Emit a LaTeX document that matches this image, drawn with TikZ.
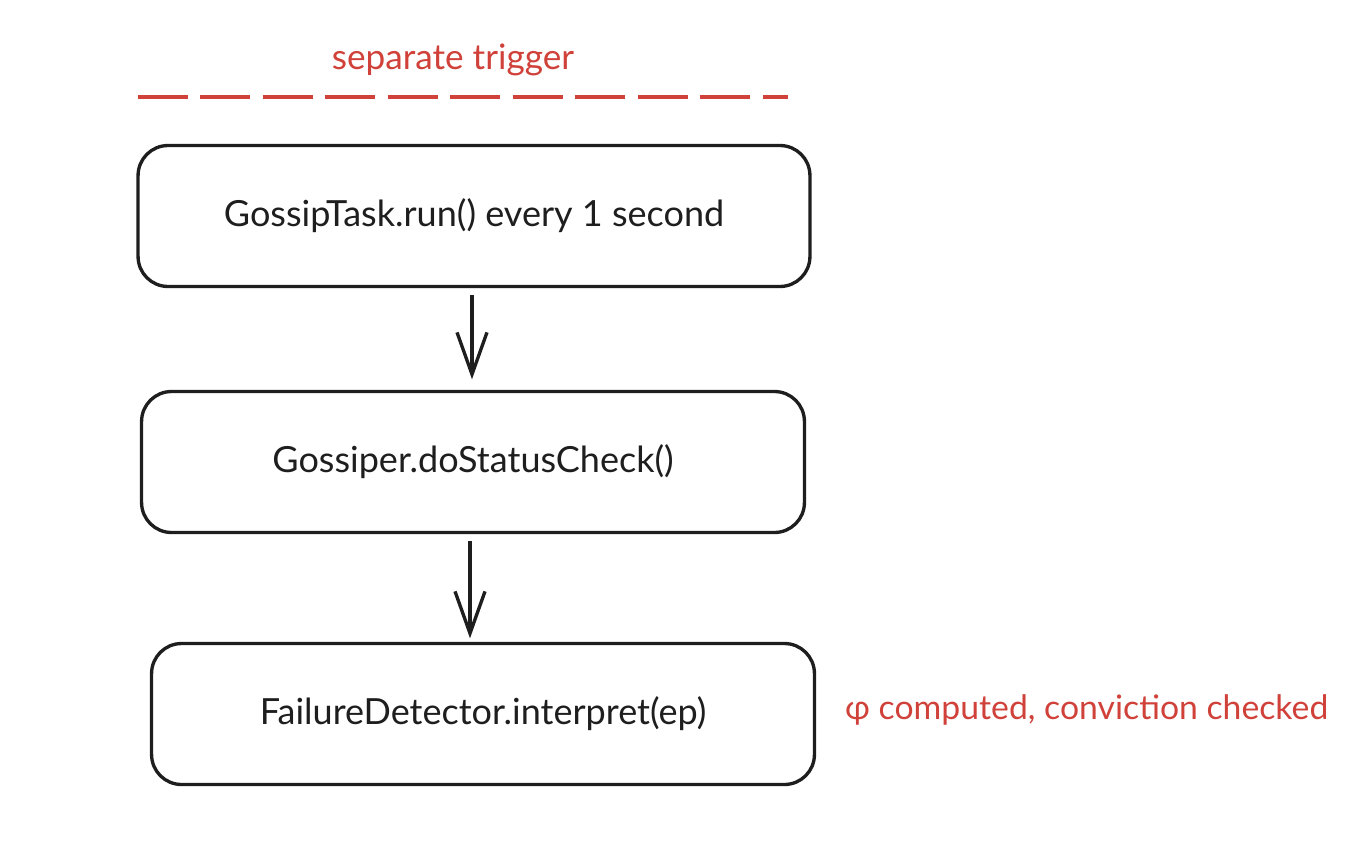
\documentclass[tikz,border=0pt]{standalone}
\usepackage{fontspec}
\setmainfont{Lato}
\usepackage{xcolor}
\usetikzlibrary{arrows.meta, positioning, calc}
\definecolor{notered}{HTML}{D0413A}
\definecolor{ink}{HTML}{1E1E1E}

\begin{document}
\begin{tikzpicture}[
      x=0.02cm, y=-0.02cm,
      etapa/.style={draw=ink, line width=1.9pt, rounded corners=0.6cm,
                    minimum height=2.82cm, align=center,
                    font=\fontsize{20.5}{24}\selectfont, text=ink},
      nota/.style={font=\fontsize{20}{24}\selectfont, text=notered},
      seta/.style={-{Straight Barb[length=0.84cm, width=0.6cm, line width=1.9pt]},
                   line width=1.9pt, ink},
      corte/.style={notered, line width=1.8pt, dash pattern=on 1cm off 0.25cm}
  ]
      \useasboundingbox (0,0) rectangle (1364,842);

      % Disparo separado
      \coordinate (l0) at (138,97);
      \coordinate (l1) at (788,97);
      \draw[corte] (l0) -- (l1);
      \node[nota] (trig) at (453,60) {separate trigger};

      % Etapas
      \node[etapa, minimum width=13.44cm] (task) at (474,216) {GossipTask.run() every 1 second};
      \node[etapa, minimum width=13.26cm] (gos)  at (473,462) {Gossiper.doStatusCheck()};
      \node[etapa, minimum width=13.26cm] (fd)   at (483,714) {FailureDetector.interpret(ep)};

      \draw[seta, shorten <=4pt, shorten >=6pt] (task.south -| 472,0) -- (gos.north -| 472,0);
      \draw[seta, shorten <=4pt, shorten >=2pt] (gos.south -| 470,0) -- (fd.north -| 470,0);

      % Nota lateral
      \node[nota, anchor=west, font=\fontsize{19.2}{23}\selectfont] (phi) at (839,710) {φ computed, conviction checked};
  \end{tikzpicture}
\end{document}
